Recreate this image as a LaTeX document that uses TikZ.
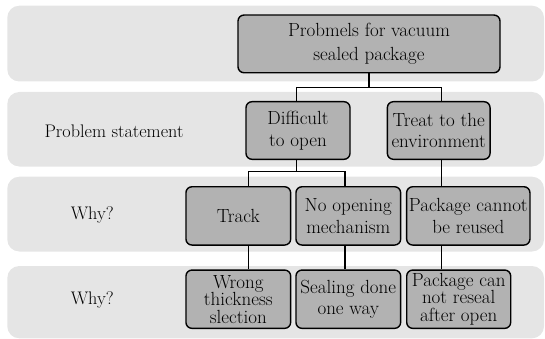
\documentclass[tikz,border=0pt]{standalone}
\begin{document}
\begin{tikzpicture}[x=1pt,y=-1pt,
  band/.style={fill=black!10, rounded corners=12pt},
  box/.style={draw=black, fill=black!30, line width=1.4pt, rounded corners=6pt, align=center, inner sep=0pt, font=\fontsize{19}{21.7}\selectfont},
  three/.style={font=\fontsize{19}{17.5}\selectfont},
  lbl/.style={font=\fontsize{18.2}{21}\selectfont, inner sep=0pt},
  link/.style={line width=1.2pt}]
\useasboundingbox (0,0) rectangle (545,339);
% bands
\path[band] (7.3,5.7) rectangle (544,81.5);
\path[band] (7.3,92) rectangle (544,166.5);
\path[band] (7.3,176.7) rectangle (544,251.5);
\path[band] (7.3,266) rectangle (544,338.3);
% row labels
\node[lbl] (l2) at (114,131) {Problem statement};
\node[lbl] (l3) at (92.3,215) {Why?};
\node[lbl] (l4) at (92.3,300) {Why?};
% boxes
\node[box, font=\fontsize{19}{24.5}\selectfont, minimum width=262pt, minimum height=57.7pt] (top) at (369,43.9) {Probmels for vacuum\\sealed package};
\node[box, minimum width=104pt, minimum height=57.6pt] (diff) at (298,130.5) {Difficult\\to open};
\node[box, minimum width=102.7pt, minimum height=57.6pt] (treat) at (438.7,130.5) {Treat to the\\environment};
\node[box, minimum width=104.7pt, minimum height=58.3pt] (track) at (238.3,215.9) {Track};
\node[box, minimum width=104.7pt, minimum height=58.3pt] (noopen) at (348.3,215.9) {No opening\\mechanism};
\node[box, minimum width=123.3pt, minimum height=58.3pt] (pcannot) at (468.3,215.9) {Package cannot\\be reused};
\node[box, three, minimum width=104.7pt, minimum height=58.3pt] (wrong) at (238.3,299.2) {Wrong\\thickness\\slection};
\node[box, minimum width=104.7pt, minimum height=58.3pt] (sealing) at (348.3,299.2) {Sealing done\\one way};
\node[box, three, minimum width=104pt, minimum height=58.3pt] (pcan) at (458.7,299.2) {Package can\\not reseal\\after open};
% junctions
\coordinate (j1) at (369,87.3);
\coordinate (j2) at (296.7,171.7);
% connectors
\draw[link] (top.south) -- (j1);
\draw[link] ([xshift=-1.3pt]diff.north) |- (j1) -| ([xshift=3pt]treat.north);
\draw[link] ([xshift=-1.3pt]diff.south) -- (j2);
\draw[link] ([xshift=10pt]track.north) |- (j2) -| ([xshift=-3.3pt]noopen.north);
\draw[link] ([xshift=3pt]treat.south) -- ([xshift=-26.6pt]pcannot.north);
\draw[link] ([xshift=10pt]track.south) -- ([xshift=10pt]wrong.north);
\draw[link] ([xshift=-3.3pt]noopen.south) -- ([xshift=-3.3pt]sealing.north);
\draw[link] ([xshift=-26.6pt]pcannot.south) -- ([xshift=-17pt]pcan.north);
\end{tikzpicture}
\end{document}
